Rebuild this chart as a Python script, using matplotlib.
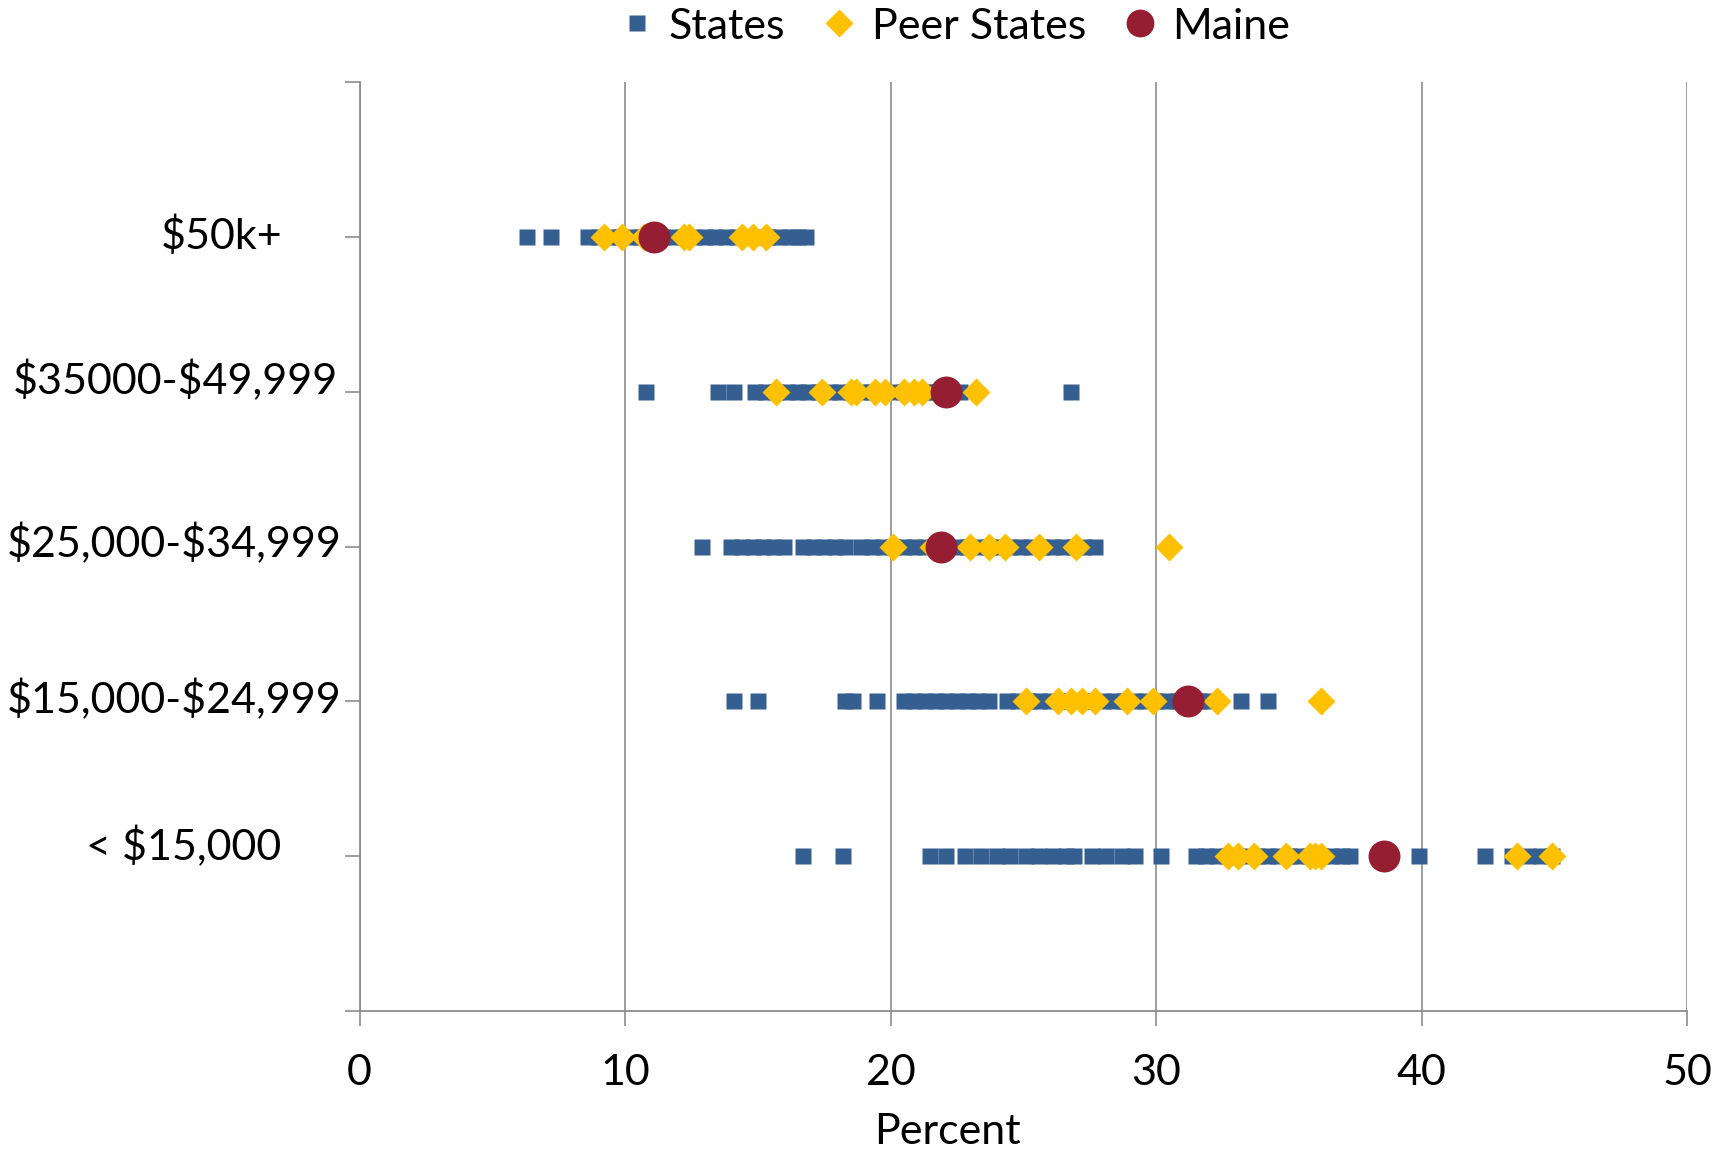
import matplotlib
matplotlib.use("Agg")
from matplotlib import pyplot as plt

plt.rcParams['font.family'] = ['Lato', 'DejaVu Sans']
plt.rcParams['text.parse_math'] = False

categories = ['< $15,000', '$15,000-$24,999', '$25,000-$34,999',
              '$35000-$49,999', '$50k+']

# all states, one list per income group (percent)
states_lt15 = [16.7, 18.2, 21.5, 22.1, 22.8, 23.4, 24.0, 24.5, 25.1, 25.6,
               26.1, 26.6, 26.9, 27.6, 28.1, 28.7, 29.2, 30.2, 31.5, 31.9,
               32.3, 32.7, 33.0, 33.4, 33.8, 34.2, 34.6, 35.0, 35.4, 35.8,
               36.2, 36.6, 37.0, 37.3, 39.9, 42.4, 43.4, 44.0, 44.5, 44.9]
states_15_25 = [14.1, 15.0, 18.3, 18.6, 19.5, 20.5, 20.9, 21.3, 21.7, 22.1,
                22.5, 22.9, 23.3, 23.7, 24.4, 24.8, 25.2, 25.6, 26.0, 26.4,
                26.8, 27.2, 27.6, 28.0, 28.4, 28.8, 29.2, 29.6, 30.0, 30.4,
                30.8, 31.2, 31.6, 32.0, 33.2, 34.2]
states_25_35 = [12.9, 14.0, 14.4, 14.8, 15.2, 15.6, 16.0, 16.7, 17.1, 17.5,
                17.9, 18.3, 18.9, 19.3, 19.7, 20.1, 20.5, 20.9, 21.3, 21.7,
                22.1, 22.5, 22.9, 23.3, 23.7, 24.1, 24.5, 24.9, 25.3, 25.7,
                26.1, 26.5, 26.9, 27.3, 27.7]
states_35_50 = [10.8, 13.5, 14.1, 14.9, 15.3, 15.7, 16.1, 16.5, 16.9, 17.3,
                17.7, 18.1, 18.5, 18.9, 19.3, 19.7, 20.1, 20.5, 20.9, 21.3,
                21.7, 22.1, 22.6, 26.8]
states_50k = [6.3, 7.2, 8.6, 9.0, 9.4, 9.8, 10.2, 10.6, 11.0, 11.4,
              11.8, 12.2, 12.6, 13.0, 13.4, 13.8, 14.2, 14.6, 15.0, 15.4,
              15.8, 16.2, 16.5, 16.8]

# peer states
peer_lt15 = [32.7, 33.1, 33.7, 34.9, 35.8, 36.0, 36.2, 43.6, 44.9]
peer_15_25 = [25.1, 26.3, 26.8, 27.2, 27.7, 28.9, 29.9, 32.3, 36.2]
peer_25_35 = [20.1, 21.6, 23.0, 23.7, 24.3, 25.6, 27.0, 30.5]
peer_35_50 = [15.7, 17.4, 18.5, 18.7, 19.4, 19.8, 20.5, 20.9, 21.2, 23.2]
peer_50k = [9.2, 9.9, 10.7, 12.2, 12.4, 14.4, 14.8, 15.3]

# Maine
maine = [38.6, 31.2, 21.9, 22.1, 11.1]

states = [states_lt15, states_15_25, states_25_35, states_35_50, states_50k]
peers = [peer_lt15, peer_15_25, peer_25_35, peer_35_50, peer_50k]

blue = '#365F91'
gold = '#FFC000'
red = '#961E32'
gray = '#8C8C8C'

fig = plt.figure(figsize=(17.29, 11.53), dpi=100)
ax = fig.add_axes([0.208, 0.123, 0.7677, 0.806])

for i, vals in enumerate(states):
    ax.plot(vals, [i + 1] * len(vals), ls='none', marker='s', ms=11.5,
            mfc=blue, mec='none', zorder=3, label='States' if i == 0 else None)
for i, vals in enumerate(peers):
    ax.plot(vals, [i + 1] * len(vals), ls='none', marker='D', ms=13.8,
            mfc=gold, mec='none', zorder=4, label='Peer States' if i == 0 else None)
ax.plot(maine, range(1, len(maine) + 1), ls='none', marker='o', ms=23,
        mfc=red, mec='none', zorder=5, label='Maine')

ax.set_xlim(0, 50)
ax.set_ylim(0, 6)
ax.set_xticks(range(0, 51, 10))
ax.set_yticks(range(0, 7))
ax.set_yticklabels([])
ax.tick_params(axis='x', labelsize=31, colors=gray, labelcolor='black',
               length=11, width=1.2, direction='out', pad=20)
ax.tick_params(axis='y', colors=gray, length=11, width=1.2, direction='out')
ax.xaxis.grid(True, color=gray, lw=1.2)
ax.set_axisbelow(True)
for s in ['top', 'right']:
    ax.spines[s].set_visible(False)
for s in ['left', 'bottom']:
    ax.spines[s].set_color(gray)
    ax.spines[s].set_linewidth(1.3)
ax.set_xlabel('Percent', fontsize=31, labelpad=4)
ax.xaxis.set_label_coords(0.443, -0.11)

# category labels, placed like the original text boxes (pixels)
label_x = [184, 174, 174, 175, 222]
label_up = [10, 2, 3, 11, 1]
for i, name in enumerate(categories):
    ypix = ax.transData.transform((0, i + 1))[1] + label_up[i]
    fig.text(label_x[i] / 1729, ypix / 1153, name, fontsize=31,
             ha='center', va='center')

leg = ax.legend(loc='center', bbox_to_anchor=(0.549, 0.977),
                bbox_transform=fig.transFigure, ncol=3, frameon=False,
                fontsize=31, handletextpad=0.1, columnspacing=0.6,
                handlelength=1.3, borderaxespad=0)
for h, ms in zip(leg.legend_handles, [11, 14, 20]):
    h.set_markersize(ms)

fig.savefig('out.png', dpi=100)
